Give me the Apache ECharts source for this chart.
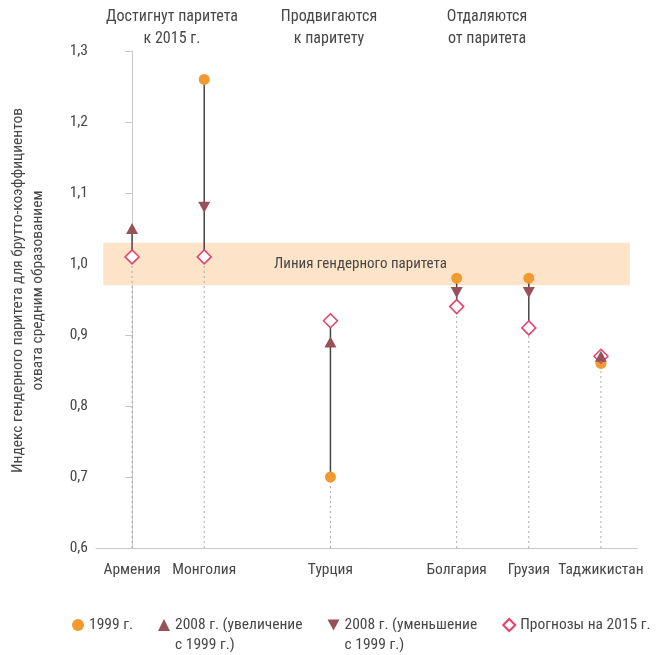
<!DOCTYPE html>
<html><head><meta charset="utf-8">
<script src="https://cdn.jsdelivr.net/npm/echarts@6/dist/echarts.min.js"></script>
<style>html,body{margin:0;padding:0;background:#fff}#c{width:659px;height:655px}</style>
</head><body><div id="c"></div>
<script>
var FONT = "'Liberation Sans Narrow','Roboto Condensed',Roboto,sans-serif";
var categories = ['Армения','Монголия','Турция','Болгария','Грузия','Таджикистан'];
var positions = [0, 1, 2.75, 4.5, 5.5, 6.5];
var v1999 = [1.01, 1.26, 0.70, 0.98, 0.98, 0.86];
var v2008 = [1.05, 1.08, 0.89, 0.96, 0.96, 0.87];
var v2015 = [1.01, 1.01, 0.92, 0.94, 0.91, 0.87];
var yTicks = ['0,6','0,7','0,8','0,9','1,0','1,1','1,2','1,3'];
var groups = [
  {text:'Достигнут паритета\nк 2015 г.', x:172},
  {text:'Продвигаются\nк паритету', x:329},
  {text:'Отдаляются\nот паритета', x:487}
];
var seriesNames = ['1999 г.','2008 г. (увеличение\nс 1999 г.)','2008 г. (уменьшение\nс 1999 г.)','Прогнозы на 2015 г.'];
var bandLabel = 'Линия гендерного паритета';
var band = [0.97, 1.03];

var C_OR = '#F29A30', C_BR = '#985158', C_PK = '#E8406A', TXT = '#474747';
var rangeData = categories.map(function(c,i){
  var vals=[v1999[i],v2008[i],v2015[i]];
  return [positions[i], Math.min.apply(null,vals), Math.max.apply(null,vals)];
});
var upData = [], downData = [];
categories.forEach(function(c,i){
  if (v2008[i] >= v1999[i]) upData.push([positions[i], v2008[i]]);
  else downData.push([positions[i], v2008[i]]);
});
var chart = echarts.init(document.getElementById('c'));
chart.setOption({
  animation:false,
  textStyle:{fontFamily:FONT},
  grid:{left:95,right:22,top:51,bottom:107},
  graphic: groups.map(function(g){
    return {type:'text', x:g.x, y:6, style:{text:g.text, x:0, y:0, align:'center', verticalAlign:'top', font:'16px '+FONT, fill:TXT, lineHeight:22}};
  }),
  legend:{
    left:72, top:595, padding:0, itemGap:25, itemWidth:12, itemHeight:12,
    textStyle:{fontSize:15.5, color:TXT, lineHeight:20, fontFamily:FONT},
    formatter:function(name){ return name.indexOf('\n')>=0 ? '\n'+name : name; },
    data:[
      {name:seriesNames[0], icon:'circle'},
      {name:seriesNames[1], icon:'triangle'},
      {name:seriesNames[2], icon:'path://M0,0L10,0L5,9Z'},
      {name:seriesNames[3], icon:'diamond'}
    ]
  },
  xAxis:{
    type:'value', min:-0.5, max:7, interval:0.25,
    axisLine:{lineStyle:{color:'#c8c8c8'}}, axisTick:{show:false}, splitLine:{show:false},
    axisLabel:{
      color:TXT, fontSize:15.5, margin:14, fontFamily:FONT,
      formatter:function(v){ var i=positions.indexOf(Math.round(v*100)/100); return i>=0?categories[i]:''; }
    }
  },
  yAxis:{
    type:'value', min:0.6, max:1.3, interval:0.1,
    name:'Индекс гендерного паритета для брутто-коэффициентов\nохвата средним образованием',
    nameLocation:'middle', nameGap:48,
    nameTextStyle:{fontSize:15.5, color:TXT, lineHeight:20, fontFamily:FONT, padding:[0,0,0,18]},
    axisLine:{show:true, lineStyle:{color:'#c8c8c8'}}, axisTick:{show:true, length:7, lineStyle:{color:'#c8c8c8'}},
    splitLine:{show:false},
    axisLabel:{color:TXT, fontSize:15.5, margin:8, fontFamily:FONT,
      formatter:function(v){ return yTicks[Math.round((v-0.6)*10)]; }}
  },
  series:[
    {type:'custom', name:'range', silent:true, z:1, data:rangeData,
     renderItem:function(params, api){
       var x=api.value(0), lo=api.value(1), hi=api.value(2);
       var pB=api.coord([x,0.6]), pL=api.coord([x,lo]), pH=api.coord([x,hi]);
       return {type:'group', children:[
         {type:'line', shape:{x1:pB[0],y1:pB[1],x2:pL[0],y2:pL[1]}, style:{stroke:'#aaa', lineWidth:1, lineDash:[2,3]}},
         {type:'line', shape:{x1:pL[0],y1:pL[1],x2:pH[0],y2:pH[1]}, style:{stroke:'#444', lineWidth:1.5}}
       ]};
     },
     markArea:{silent:true, itemStyle:{color:'#FDE3C7'},
       label:{show:true, position:'inside', color:TXT, fontSize:15, fontFamily:FONT, offset:[-6,0]},
       data:[[{name:bandLabel, xAxis:-0.4, yAxis:band[0]},{xAxis:6.9, yAxis:band[1]}]]}
    },
    {type:'scatter', name:seriesNames[0], z:3, symbol:'circle', symbolSize:11, itemStyle:{color:C_OR, opacity:1},
     data:categories.map(function(c,i){return [positions[i], v1999[i]];})},
    {type:'scatter', name:seriesNames[3], z:4, symbol:'diamond', symbolSize:14,
     itemStyle:{color:'#fff', borderColor:C_PK, borderWidth:1.5, opacity:1},
     data:categories.map(function(c,i){return [positions[i], v2015[i]];})},
    {type:'scatter', name:seriesNames[1], z:5, symbol:'triangle', symbolSize:[12,11], itemStyle:{color:C_BR, opacity:1}, data:upData},
    {type:'scatter', name:seriesNames[2], z:5, symbol:'triangle', symbolRotate:180, symbolSize:[12,11], itemStyle:{color:C_BR, opacity:1}, data:downData}
  ]
});
</script></body></html>
